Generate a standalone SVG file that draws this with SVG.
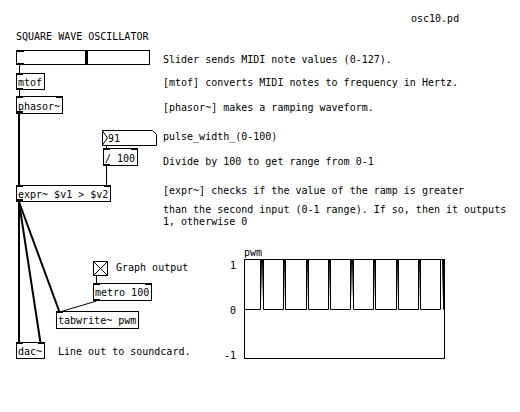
<svg xmlns="http://www.w3.org/2000/svg" width="520" height="412" viewBox="0 0 520 412">
<defs>
<style>
.box{fill:#fff;stroke:#000;stroke-width:1}
.io{fill:#000}
.t{font-family:"DejaVu Sans Mono","Liberation Mono",monospace;font-size:10px;fill:#000}
.c{stroke:#000;stroke-width:1;fill:none}
.s{stroke:#000;stroke-width:2;fill:none}
.ln{stroke:#000;stroke-width:1;fill:none}
</style>
<linearGradient id="pg" x1="0" y1="0" x2="0" y2="1">
<stop offset="0" stop-color="#000"/>
<stop offset="0.45" stop-color="#777"/>
<stop offset="0.85" stop-color="#fff"/>
</linearGradient>
</defs>
<rect width="520" height="412" fill="#fff"/>

<g id="comments">
<text class="t" x="411" y="22">osc10.pd</text>
<text class="t" x="16" y="40">SQUARE WAVE OSCILLATOR</text>
<text class="t" x="163" y="63">Slider sends MIDI note values (0-127).</text>
<text class="t" x="163" y="86">[mtof] converts MIDI notes to frequency in Hertz.</text>
<text class="t" x="163" y="111">[phasor~] makes a ramping waveform.</text>
<text class="t" x="163" y="140">pulse_width_(0-100)</text>
<text class="t" x="163" y="165">Divide by 100 to get range from 0-1</text>
<text class="t" x="163" y="194">[expr~] checks if the value of the ramp is greater</text>
<text class="t" x="163" y="213">than the second input (0-1 range). If so, then it outputs</text>
<text class="t" x="163" y="225">1, otherwise 0</text>
<text class="t" x="116" y="271">Graph output</text>
<text class="t" x="58" y="355">Line out to soundcard.</text>
</g>

<g id="connectors">
<line class="c" x1="19.5" y1="65" x2="19.5" y2="74"/>
<line class="c" x1="19.5" y1="90" x2="19.5" y2="97"/>
<line class="s" x1="19" y1="114" x2="19" y2="186"/>
<line class="c" x1="106.5" y1="146" x2="106.5" y2="149"/>
<line class="c" x1="106.5" y1="166" x2="106.5" y2="186"/>
<line class="s" x1="19" y1="202" x2="19" y2="343"/>
<line class="s" x1="19" y1="202" x2="40.5" y2="343"/>
<line class="s" x1="19" y1="202" x2="59.5" y2="312"/>
<line class="c" x1="96.5" y1="276" x2="96.5" y2="284"/>
<line class="c" x1="96.5" y1="301" x2="59.5" y2="312"/>
</g>

<g id="slider">
<rect class="box" x="16.5" y="50.5" width="133" height="14"/>
<rect class="io" x="85" y="51" width="3" height="14"/>
<rect class="io" x="16" y="50" width="8" height="2"/>
<rect class="io" x="16" y="63" width="8" height="2"/>
</g>

<g id="mtof">
<rect class="box" x="16.5" y="73.5" width="28" height="16"/>
<rect class="io" x="16" y="73" width="7" height="2"/>
<rect class="io" x="16" y="88" width="7" height="2"/>
<text class="t" x="18" y="86">mtof</text>
</g>

<g id="phasor">
<rect class="box" x="16.5" y="96.5" width="46" height="17"/>
<rect class="io" x="16" y="96" width="7" height="2"/>
<rect class="io" x="56" y="96" width="7" height="2"/>
<rect class="io" x="16" y="111" width="7" height="3"/>
<text class="t" x="18" y="110">phasor~</text>
</g>

<g id="number">
<polygon class="box" points="102.5,130.5 152.5,130.5 156.5,134.5 156.5,145.5 102.5,145.5"/>
<polyline class="ln" points="102.5,131 107.5,138 102.5,145"/>
<text class="t" x="108" y="142">91</text>
</g>

<g id="div100">
<rect class="box" x="103.5" y="148.5" width="34" height="17"/>
<rect class="io" x="103" y="148" width="7" height="2"/>
<rect class="io" x="131" y="148" width="7" height="2"/>
<rect class="io" x="103" y="164" width="7" height="2"/>
<text class="t" x="105" y="161.5">/ 100</text>
</g>

<g id="expr">
<rect class="box" x="16.5" y="185.5" width="94" height="16"/>
<rect class="io" x="16" y="185" width="7" height="2"/>
<rect class="io" x="104" y="185" width="7" height="2"/>
<rect class="io" x="16" y="199" width="7" height="3"/>
<text class="t" x="18" y="198">expr~ $v1 &gt; $v2</text>
</g>

<g id="toggle">
<rect class="box" x="93.5" y="261.5" width="14" height="14"/>
<line class="ln" x1="93.5" y1="261.5" x2="107.5" y2="275.5"/>
<line class="ln" x1="107.5" y1="261.5" x2="93.5" y2="275.5"/>
</g>

<g id="metro">
<rect class="box" x="93.5" y="283.5" width="58" height="17"/>
<rect class="io" x="93" y="283" width="7" height="2"/>
<rect class="io" x="145" y="283" width="7" height="2"/>
<rect class="io" x="93" y="299" width="7" height="2"/>
<text class="t" x="95" y="296">metro 100</text>
</g>

<g id="tabwrite">
<rect class="box" x="56.5" y="311.5" width="82" height="17"/>
<rect class="io" x="56" y="311" width="7" height="2"/>
<text class="t" x="58" y="324">tabwrite~ pwm</text>
</g>

<g id="dac">
<rect class="box" x="16.5" y="342.5" width="28" height="16"/>
<rect class="io" x="16" y="342" width="7" height="2"/>
<rect class="io" x="38" y="342" width="7" height="2"/>
<text class="t" x="18" y="355">dac~</text>
</g>

<g id="graph">
<text class="t" x="244" y="256">pwm</text>
<text class="t" x="236" y="268.5" text-anchor="end">1</text>
<text class="t" x="236" y="313.5" text-anchor="end">0</text>
<text class="t" x="236" y="359" text-anchor="end">-1</text>
<rect class="box" x="244.5" y="259.5" width="200" height="99"/>
<g fill="url(#pg)">
<rect x="261" y="260" width="2" height="49"/>
<rect x="284" y="260" width="2" height="49"/>
<rect x="307" y="260" width="2" height="49"/>
<rect x="329" y="260" width="2" height="49"/>
<rect x="351" y="260" width="2" height="49"/>
<rect x="374" y="260" width="2" height="49"/>
<rect x="397" y="260" width="2" height="49"/>
<rect x="419" y="260" width="2" height="49"/>
<rect x="442" y="260" width="2" height="49"/>
</g>
<polyline class="ln" points="244.5,309.5 260.5,309.5 260.5,259.5 263.5,259.5 263.5,309.5 283.5,309.5 283.5,259.5 285.5,259.5 285.5,309.5 306.5,309.5 306.5,259.5 308.5,259.5 308.5,309.5 328.5,309.5 328.5,259.5 330.5,259.5 330.5,309.5 350.5,309.5 350.5,259.5 353.5,259.5 353.5,309.5 373.5,309.5 373.5,259.5 375.5,259.5 375.5,309.5 396.5,309.5 396.5,259.5 398.5,259.5 398.5,309.5 418.5,309.5 418.5,259.5 420.5,259.5 420.5,309.5 440.5,309.5 440.5,259.5 443.5,259.5 443.5,309.5"/>
</g>
</svg>
